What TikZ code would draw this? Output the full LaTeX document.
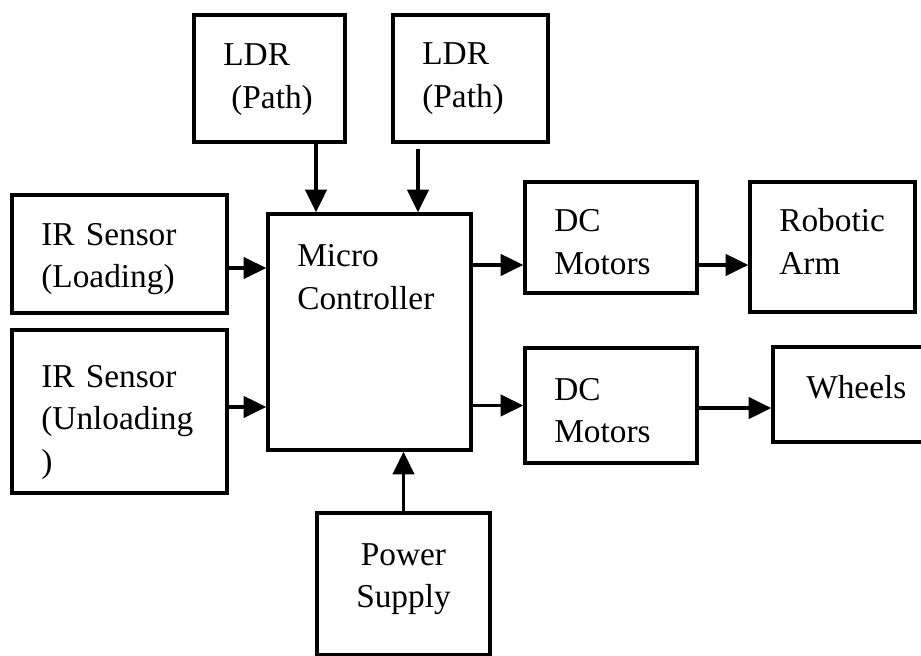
\documentclass[tikz,border=0pt]{standalone}
\usepackage{fontspec}
\setmainfont{Liberation Serif}
\usetikzlibrary{arrows.meta,positioning}

\begin{document}
\begin{tikzpicture}[
x=0.75pt, y=-0.75pt,
blk/.style={draw, line width=2.6pt, align=left, inner xsep=22pt, inner ysep=0pt, text height=18pt, font=\fontsize{25}{32}\selectfont},
arrow/.style={-{Triangle[length=17pt,width=16pt]}, line width=2.5pt}
]
\path[use as bounding box, fill=white] (0,0) rectangle (921,656);
\clip (0,0) rectangle (921,656);

\node[blk, minimum height=95.25pt, text width=69.25pt, text depth=36.75pt] (ldrA) at (269.5,78.5) {LDR\\\hspace*{6pt}(Path)};
\node[blk, minimum height=95.25pt, text width=72.25pt, text depth=38.25pt] (ldrB) at (470.5,78.5) {LDR\\(Path)};
\node[blk, minimum height=88.5pt, text width=117.25pt, text depth=31.5pt] (irA) at (119.5,254) {IR Sensor\\(Loading)};
\node[blk, minimum height=122.25pt, text width=117.25pt, text depth=54.75pt] (irB) at (119.5,411.5) {IR Sensor\\(Unloading\\)};
\node[blk, minimum height=177pt, text width=108.25pt, text depth=115.5pt] (mc) at (369.5,332) {Micro\\Controller};
\node[blk, minimum height=83.25pt, text width=85pt, text depth=26.25pt] (dcA) at (611,237.5) {DC\\Motors};
\node[blk, minimum height=97.5pt, text width=79.75pt, text depth=40.5pt] (arm) at (832.5,247) {Robotic\\Arm};
\node[blk, minimum height=86.25pt, text width=85pt, text depth=26.25pt] (dcB) at (611,405.5) {DC\\Motors};
\node[blk, minimum height=71.25pt, text width=67.75pt, inner xsep=25pt, text depth=12.75pt] (whl) at (851.5,394.5) {Wheels};
\node[blk, minimum height=106.5pt, text width=85.75pt, align=center, text depth=46.5pt] (pwr) at (403.5,584) {Power\\Supply};

\draw[arrow] ([xshift=34.9pt]ldrA.south) -- ([xshift=34.9pt]ldrA.south |- mc.north);
\draw[arrow] ([xshift=-39.4pt,yshift=-4pt]ldrB.south) -- ([xshift=-39.4pt]ldrB.south |- mc.north);
\draw[arrow] ([yshift=-10.5pt]irA.east) -- ([yshift=-10.5pt]irA.east -| mc.west);
\draw[arrow] ([yshift=3.4pt]irB.east) -- ([yshift=3.4pt]irB.east -| mc.west);
\draw[arrow] ([yshift=-20.6pt]dcA.west -| mc.east) -- ([yshift=-20.6pt]dcA.west);
\draw[arrow] ([yshift=-20.6pt]dcA.east) -- ([yshift=-20.6pt]dcA.east -| arm.west);
\draw[arrow] (dcB.west -| mc.east) -- (dcB.west);
\draw[arrow] ([yshift=-1.9pt]dcB.east) -- ([yshift=-1.9pt]dcB.east -| whl.west);
\draw[arrow] (pwr.north) -- (pwr.north |- mc.south);
\end{tikzpicture}
\end{document}
